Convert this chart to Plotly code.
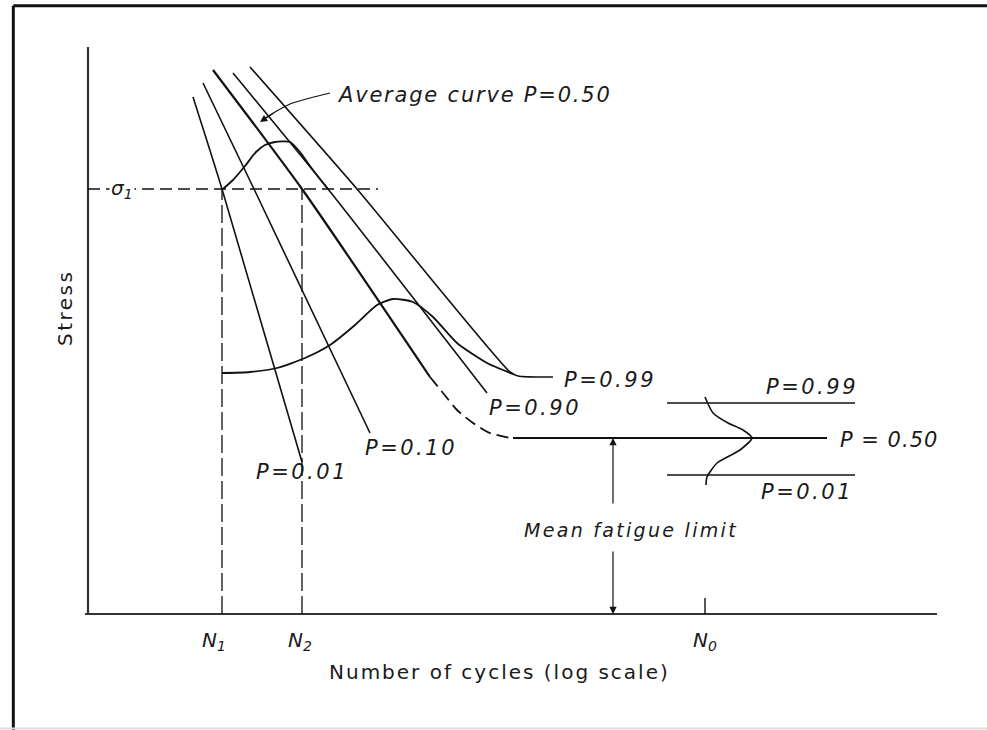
import plotly.graph_objects as go

# ---- data (schematic units: x = log cycles, y = stress) ----
sigma1 = 42.5
N1, N2, N0 = 13.4, 21.4, 61.7
fatigue_mean, fatigue_p99, fatigue_p01 = 17.6, 21.1, 13.9

p01_x = [10.5, 13.4, 21.4]
p01_y = [51.7, 42.5, 15.2]
p10_x = [11.5, 16.6, 28.2]
p10_y = [53.1, 42.5, 18.1]
p50_x = [12.5, 21.4, 34.2]
p50_y = [54.4, 42.5, 23.7]
p50_dash_x = [34.2, 35.5, 36.9, 38.5, 40.2, 42.2, 42.5]
p50_dash_y = [23.7, 22.1, 20.4, 19.1, 18.1, 17.6, 17.6]
p50_flat_x = [42.5, 73.9]
p90_x = [14.5, 24.0, 39.9]
p90_y = [54.1, 42.5, 22.1]
p99_x = [16.2, 26.9, 42.2, 43.0, 46.5]
p99_y = [54.7, 42.5, 24.2, 23.8, 23.7]

bell_top_x = [13.5, 14.5, 15.7, 16.8, 17.7, 18.7, 20.2, 21.2, 22.2, 23.2, 24.0]
bell_top_y = [42.5, 43.4, 44.8, 46.2, 46.9, 47.2, 47.2, 46.2, 44.8, 43.5, 42.5]
bell_low_x = [13.4, 16.2, 18.9, 21.7, 24.2, 26.7, 28.9, 30.5, 32.5, 34.5, 36.9, 39.9, 42.5]
bell_low_y = [24.1, 24.2, 24.6, 25.6, 26.9, 28.9, 30.9, 31.5, 31.2, 29.7, 27.1, 25.1, 24.0]
bell_right_x = [61.7, 62.5, 64.0, 65.5, 66.4, 65.2, 62.9, 61.9, 61.8]
bell_right_y = [21.7, 20.1, 19.1, 18.4, 17.6, 16.4, 15.1, 13.7, 12.9]
right_lines_x = [57.9, 76.7]

leader_x = [24.2, 22.2, 20.2, 18.7, 17.6]
leader_y = [52.1, 51.6, 51.0, 50.2, 49.5]

x_axis_end = 84.9
y_axis_top = 56.7
n0_tick_top = 1.6
sigma_line_end = 29.0
arrow_x = 52.5
arrow_up_from = 10.9
arrow_down_from = 6.4

BLACK = "#111111"
fig = go.Figure()

def line(x, y, width=1.6, dash="solid", color=BLACK):
    fig.add_trace(go.Scatter(x=x, y=y, mode="lines", hoverinfo="skip",
                             line=dict(color=color, width=width, dash=dash,
                                       shape="spline", smoothing=0.6)))

# axes
line([0, 0], [0, y_axis_top], width=2.2, color="#333333")
line([-0.3, x_axis_end], [0, 0], width=2.2, color="#333333")
line([N0, N0], [0, n0_tick_top], width=1.4)

# sigma1 and N1/N2 construction lines
line([0, sigma_line_end], [sigma1, sigma1], width=1.5, dash="12px,6px")
line([N1, N1], [0, sigma1], width=1.3, dash="18px,5px")
line([N2, N2], [0, sigma1], width=1.3, dash="18px,5px")

# S-N curves
line(p01_x, p01_y)
line(p10_x, p10_y)
line(p50_x, p50_y, width=2.2)
line(p50_dash_x, p50_dash_y, width=1.8, dash="12px,6px")
line(p50_flat_x, [fatigue_mean, fatigue_mean], width=2.2)
line(p90_x, p90_y)
line(p99_x, p99_y)

# distributions
line(bell_top_x, bell_top_y, width=1.8)
line(bell_low_x, bell_low_y, width=1.8)
line(bell_right_x, bell_right_y, width=1.6)
line(right_lines_x, [fatigue_p99, fatigue_p99], width=1.5)
line(right_lines_x, [fatigue_p01, fatigue_p01], width=1.5)

# leader
line(leader_x, leader_y, width=1.2)

FONT = "DejaVu Sans"
def label(x, y, text, size=21, italic=True, xanchor="center", spacing=2.5, **kw):
    t = text
    if spacing:
        t = f'<span style="letter-spacing:{spacing}px">{t}</span>'
    if italic:
        t = f"<i>{t}</i>"
    fig.add_annotation(x=x, y=y, text=t, showarrow=False, xanchor=xanchor,
                       yanchor="middle", font=dict(family=FONT, size=size, color="#1a1a1a"), **kw)

label(24.7, 51.9, "Average curve P=0.50", size=21, xanchor="left", spacing=1.8)
label(21.4, 14.2, "P=0.01")
label(32.3, 16.6, "P=0.10")
label(44.7, 20.6, "P=0.90")
label(52.2, 23.4, "P=0.99")
label(72.4, 22.7, "P=0.99")
label(80.1, 17.4, "P = 0.50", spacing=1)
label(71.9, 12.2, "P=0.01")
label(54.3, 8.4, "Mean fatigue limit", size=19, spacing=2.3)
label(12.6, -2.7, "N<sub>1</sub>", size=20, spacing=0)
label(21.2, -2.7, "N<sub>2</sub>", size=20, spacing=0)
label(61.7, -2.7, "N<sub>0</sub>", size=20, spacing=0)
label(3.4, sigma1, "σ<sub>1</sub>", size=20, spacing=0, bgcolor="white")
label(41.1, -5.8, "Number of cycles (log scale)", size=20, italic=False, spacing=2)
label(-2.3, 30.6, "Stress", size=20, italic=False, spacing=2.5, textangle=-90)

# arrows
for (hx, hy, tx, ty) in [(arrow_x, fatigue_mean, arrow_x, arrow_up_from),
                         (arrow_x, 0, arrow_x, arrow_down_from),
                         (17.2, 49.2, leader_x[-2], leader_y[-2])]:
    fig.add_annotation(x=hx, y=hy, ax=tx, ay=ty, xref="x", yref="y",
                       axref="x", ayref="y", text="", showarrow=True,
                       arrowhead=2, arrowsize=1.2, arrowwidth=1.2, arrowcolor=BLACK)

# frame
fig.add_shape(type="line", xref="paper", yref="paper", x0=0.0135, x1=0.0135, y0=0, y1=0.992,
              line=dict(color="#111111", width=3))
fig.add_shape(type="line", xref="paper", yref="paper", x0=0.0135, x1=1, y0=0.992, y1=0.992,
              line=dict(color="#111111", width=3))
fig.add_shape(type="line", xref="paper", yref="paper", x0=0, x1=1, y0=0.002, y1=0.002,
              line=dict(color="#dddddd", width=2))

fig.update_layout(
    width=987, height=730, margin=dict(l=0, r=0, t=0, b=0),
    paper_bgcolor="white", plot_bgcolor="white", showlegend=False,
    xaxis=dict(range=[-8.8, 89.9], visible=False, fixedrange=True),
    yaxis=dict(range=[-11.6, 61.4], visible=False, fixedrange=True),
)
fig.write_html("out.html")
